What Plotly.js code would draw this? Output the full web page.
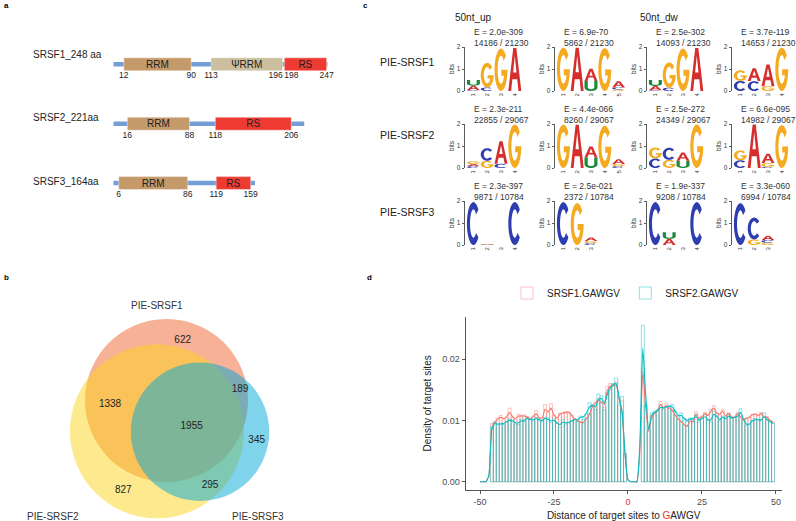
<!DOCTYPE html>
<html><head><meta charset="utf-8">
<script src="https://cdn.plot.ly/plotly-3.0.1.min.js"></script>
<style>html,body{margin:0;padding:0;background:#fff}</style>
</head><body><div id="chart" style="width:796px;height:521px"></div>
<script>
// ---------------- DATA ----------------
// Panel a: protein domains
const proteins = ['SRSF1_248 aa', 'SRSF2_221aa', 'SRSF3_164aa'];
const proteinLength = [248, 221, 164];
const domainProtein = [0, 0, 0, 1, 1, 2, 2];
const domainName = ['RRM', 'ΨRRM', 'RS', 'RRM', 'RS', 'RRM', 'RS'];
const domainStart = [12, 113, 198, 16, 118, 6, 119];
const domainEnd = [90, 196, 247, 88, 206, 86, 159];

// Panel b: Venn counts
const vennSets = ['PIE-SRSF1', 'PIE-SRSF2', 'PIE-SRSF3'];
const vennRegions = ['1 only', '1&2', '1&3', '1&2&3', '3 only', '2 only', '2&3'];
const vennCounts = [622, 1338, 189, 1955, 345, 827, 295];

// Panel c: motif logos
const logoRowNames = ['PIE-SRSF1', 'PIE-SRSF2', 'PIE-SRSF3'];
const logoGroupNames = ['50nt_up', '50nt_dw'];
const eValues = [
  ['2.0e-309', '6.9e-70', '2.5e-302', '3.7e-119'],
  ['2.3e-211', '4.4e-066', '2.5e-272', '6.6e-095'],
  ['2.3e-397', '2.5e-021', '1.9e-337', '3.3e-060']
];
const siteCounts = [
  ['14186 / 21230', '5862 / 21230', '14093 / 21230', '14653 / 21230'],
  ['22855 / 29067', '8260 / 29067', '24349 / 29067', '14982 / 29067'],
  ['9871 / 10784', '2372 / 10784', '9208 / 10784', '6994 / 10784']
];
// each column: stack bottom -> top, [letter, bits]
const logo_SRSF1_up_1 = [[['C',0.03],['A',0.21],['U',0.26]], [['C',0.16],['G',1.12]], [['G',1.93]], [['A',1.96]]];
const logo_SRSF1_up_2 = [[['G',1.97]], [['A',1.97]], [['U',0.46],['A',0.55]], [['G',1.95]], [['G',0.07],['C',0.09],['A',0.28]]];
const logo_SRSF1_dw_1 = [[['C',0.03],['A',0.2],['U',0.27]], [['C',0.15],['G',1.15]], [['G',1.93]], [['A',1.96]]];
const logo_SRSF1_dw_2 = [[['C',0.46],['G',0.48]], [['C',0.45],['A',0.58]], [['G',0.22],['A',0.99]], [['G',1.97]]];
const logo_SRSF2_up_1 = [[['C',0.08],['A',0.1],['G',0.13]], [['G',0.33],['C',0.57]], [['C',0.19],['A',1.03]], [['G',1.98]]];
const logo_SRSF2_up_2 = [[['G',1.97]], [['A',1.97]], [['U',0.48],['A',0.5]], [['G',1.93]], [['C',0.08],['G',0.1],['A',0.22]]];
const logo_SRSF2_dw_1 = [[['C',0.43],['G',0.5]], [['G',0.37],['C',0.55]], [['U',0.33],['A',0.37]], [['G',1.98]]];
const logo_SRSF2_dw_2 = [[['C',0.35],['G',0.45]], [['A',1.98]], [['C',0.05],['G',0.18],['A',0.42]], [['G',1.95]]];
const logo_SRSF3_up_1 = [[['C',1.95]], [['U',0.02],['A',0.03]], [], [['C',1.95]]];
const logo_SRSF3_up_2 = [[['C',1.95]], [['G',1.9]], [['C',0.08],['G',0.1],['A',0.16]]];
const logo_SRSF3_dw_1 = [[['C',1.95]], [['A',0.28],['U',0.3]], [], [['C',1.95]]];
const logo_SRSF3_dw_2 = [[['C',1.9]], [['G',0.25],['C',1.0]], [['G',0.1],['C',0.12],['A',0.2]]];
const logos = [
  [logo_SRSF1_up_1, logo_SRSF1_up_2, logo_SRSF1_dw_1, logo_SRSF1_dw_2],
  [logo_SRSF2_up_1, logo_SRSF2_up_2, logo_SRSF2_dw_1, logo_SRSF2_dw_2],
  [logo_SRSF3_up_1, logo_SRSF3_up_2, logo_SRSF3_dw_1, logo_SRSF3_dw_2]
];

// Panel d: histogram + density
const seriesNames = ['SRSF1.GAWGV', 'SRSF2.GAWGV'];
const binPos = [-46,-45,-44,-43,-42,-41,-40,-39,-38,-37,-36,-35,-34,-33,-32,-31,-30,-29,-28,-27,-26,-25,-24,-23,-22,-21,-20,-19,-18,-17,-16,-15,-14,-13,-12,-11,-10,-9,-8,-7,-6,-5,-4,-3,-2,-1,
  5,6,7,8,9,10,11,12,13,14,15,16,17,18,19,20,21,22,23,24,25,26,27,28,29,30,31,32,33,34,35,36,37,38,39,40,41,42,43,44,45,46,47,48,49];
const binSRSF1 = [0.0095,0.0098,0.0104,0.0108,0.0101,0.0104,0.0120,0.0105,0.0102,0.0110,0.0108,0.0109,0.0106,0.0101,0.0107,0.0116,0.0104,0.0100,0.0126,0.0113,0.0127,0.0108,0.0102,0.0112,0.0112,0.0114,0.0114,0.0109,0.0102,0.0100,0.0098,0.0096,0.0104,0.0110,0.0124,0.0130,0.0136,0.0130,0.0122,0.0155,0.0160,0.0158,0.0163,0.0130,0.0132,0.0045,
  0.0185,0.0105,0.0082,0.0108,0.0113,0.0116,0.0131,0.0118,0.0128,0.0120,0.0118,0.0108,0.0102,0.0098,0.0092,0.0090,0.0101,0.0097,0.0114,0.0102,0.0107,0.0113,0.0108,0.0118,0.0124,0.0112,0.0110,0.0118,0.0106,0.0112,0.0105,0.0104,0.0113,0.0106,0.0100,0.0104,0.0105,0.0110,0.0111,0.0108,0.0113,0.0105,0.0106,0.0100,0.0097];
const binSRSF2 = [0.0090,0.0097,0.0093,0.0095,0.0093,0.0097,0.0102,0.0101,0.0094,0.0093,0.0102,0.0098,0.0105,0.0103,0.0099,0.0105,0.0100,0.0098,0.0105,0.0104,0.0096,0.0103,0.0095,0.0089,0.0101,0.0094,0.0096,0.0100,0.0103,0.0098,0.0107,0.0102,0.0111,0.0129,0.0126,0.0118,0.0143,0.0140,0.0117,0.0146,0.0154,0.0160,0.0169,0.0125,0.0139,0.0046,
  0.0255,0.0125,0.0086,0.0112,0.0115,0.0118,0.0125,0.0120,0.0122,0.0124,0.0126,0.0115,0.0106,0.0112,0.0103,0.0098,0.0104,0.0102,0.0110,0.0097,0.0104,0.0110,0.0100,0.0098,0.0115,0.0108,0.0099,0.0107,0.0102,0.0111,0.0104,0.0105,0.0106,0.0119,0.0103,0.0092,0.0094,0.0100,0.0103,0.0101,0.0099,0.0112,0.0101,0.0098,0.0095];
const densPos = [-50,-49,-48,-47,-46,-45,-44,-43,-42,-41,-40,-39,-38,-37,-36,-35,-34,-33,-32,-31,-30,-29,-28,-27,-26,-25,-24,-23,-22,-21,-20,-19,-18,-17,-16,-15,-14,-13,-12,-11,-10,-9,-8,-7,-6,-5,-4,-3,-2,-1,
  0,1,2,3,4,5,6,7,8,9,10,11,12,13,14,15,16,17,18,19,20,21,22,23,24,25,26,27,28,29,30,31,32,33,34,35,36,37,38,39,40,41,42,43,44,45,46,47,48,49];
const densSRSF1 = [0,0,0,0.001,0.0088,0.0097,0.0102,0.0105,0.0103,0.0106,0.0113,0.0106,0.0103,0.0107,0.0107,0.0107,0.0105,0.0102,0.0106,0.0111,0.0104,0.0104,0.0118,0.0114,0.0120,0.0109,0.0104,0.0110,0.0112,0.0113,0.0113,0.0108,0.0102,0.0099,0.0097,0.0097,0.0103,0.0110,0.0122,0.0128,0.0133,0.0129,0.0126,0.0148,0.0156,0.0156,0.0158,0.0135,0.0112,0.0045,
  0.0003,0,0,0,0.005,0.0180,0.0120,0.0083,0.0105,0.0111,0.0116,0.0126,0.0120,0.0124,0.0120,0.0116,0.0108,0.0102,0.0098,0.0093,0.0091,0.0099,0.0098,0.0110,0.0103,0.0106,0.0111,0.0108,0.0115,0.0120,0.0112,0.0110,0.0115,0.0107,0.0111,0.0106,0.0105,0.0111,0.0106,0.0101,0.0103,0.0105,0.0109,0.0110,0.0108,0.0111,0.0106,0.0105,0.0100,0.0097];
const densSRSF2 = [0,0,0,0.001,0.0085,0.0095,0.0094,0.0094,0.0095,0.0098,0.0100,0.0099,0.0096,0.0096,0.0099,0.0100,0.0103,0.0102,0.0101,0.0103,0.0101,0.0100,0.0103,0.0102,0.0099,0.0100,0.0096,0.0093,0.0097,0.0096,0.0097,0.0099,0.0101,0.0101,0.0105,0.0106,0.0112,0.0122,0.0124,0.0122,0.0134,0.0136,0.0128,0.0142,0.0152,0.0158,0.0160,0.0137,0.0115,0.0045,
  0.0003,0,0,0,0.006,0.0218,0.0140,0.0085,0.0108,0.0113,0.0116,0.0121,0.0121,0.0122,0.0123,0.0122,0.0114,0.0108,0.0108,0.0103,0.0100,0.0102,0.0103,0.0106,0.0100,0.0103,0.0106,0.0101,0.0101,0.0110,0.0106,0.0101,0.0105,0.0103,0.0107,0.0104,0.0105,0.0107,0.0113,0.0102,0.0094,0.0094,0.0099,0.0101,0.0101,0.0101,0.0106,0.0101,0.0098,0.0095];

// ---------------- LAYOUT HELPERS ----------------
const W = 796, H = 521;
const FONT = 'Liberation Sans, Arial, sans-serif';
const PX = v => v / W, PY = v => 1 - v / H;
const traces = [], shapes = [], annotations = [];
const layout = {
  width: W, height: H, autosize: false,
  margin: {l: 0, r: 0, t: 0, b: 0, pad: 0},
  paper_bgcolor: '#ffffff', plot_bgcolor: 'rgba(0,0,0,0)',
  font: {family: FONT, color: '#222'},
  barmode: 'overlay', showlegend: true
};
function label(x, y, text, opts) {
  annotations.push(Object.assign({xref: 'paper', yref: 'paper', x: PX(x), y: PY(y), text: text,
    showarrow: false, xanchor: 'left', yanchor: 'middle', font: {size: 10, color: '#222', family: FONT}}, opts || {}));
}
// panel letters
label(2, 6, '<b>a</b>', {font: {size: 8, color: '#000'}});
label(361, 6, '<b>c</b>', {font: {size: 8, color: '#000'}});
label(2, 277, '<b>b</b>', {font: {size: 8, color: '#000'}});
label(365, 277, '<b>d</b>', {font: {size: 8, color: '#000'}});

// ---------------- PANEL A ----------------
const aScale = 214 / 248, aOrigin = 113.5, rowTop = 64.3, rowPitch = 59.4;
layout.xaxis = {domain: [0, PX(360)], range: [(0 - aOrigin) / aScale, (360 - aOrigin) / aScale], visible: false, fixedrange: true};
layout.yaxis = {domain: [PY(250), 1], range: [(250 - rowTop) / rowPitch, -rowTop / rowPitch], visible: false};
const rows = proteins.map((p, i) => i);
traces.push({type: 'bar', orientation: 'h', xaxis: 'x', yaxis: 'y', y: rows, base: rows.map(() => 0),
  x: proteinLength, width: 4.5 / rowPitch, marker: {color: '#739ED6', line: {width: 0}}, showlegend: false, hoverinfo: 'skip'});
const domColors = {'RRM': '#C49A6A', 'ΨRRM': '#CBBF9F', 'RS': '#EE3B32'};
traces.push({type: 'bar', orientation: 'h', xaxis: 'x', yaxis: 'y', y: domainProtein, base: domainStart,
  x: domainEnd.map((e, i) => e - domainStart[i]), width: 13 / rowPitch,
  marker: {color: domainName.map(n => domColors[n]), line: {width: 0.6, color: 'rgba(255,255,255,0.7)'}},
  text: domainName, textposition: 'inside', insidetextanchor: 'middle', constraintext: 'none', textangle: 0,
  textfont: {size: 10, color: '#222', family: FONT}, showlegend: false, hoverinfo: 'skip'});
// boundary numbers
const nx = [], ny = [], nt = [], np = [];
domainStart.forEach((s, i) => {
  const r = domainProtein[i];
  let posS = 'middle center', posE = 'middle center';
  const prev = domainStart.findIndex((s2, j) => domainProtein[j] === r && domainEnd[j] < s && s - domainEnd[j] < 5);
  if (prev >= 0) posS = 'middle right';
  const next = domainStart.findIndex((s2, j) => domainProtein[j] === r && s2 > domainEnd[i] && s2 - domainEnd[i] < 5);
  if (next >= 0) posE = 'middle left';
  nx.push(s, domainEnd[i]); ny.push(r + 0.2, r + 0.2); nt.push(String(s), String(domainEnd[i])); np.push(posS, posE);
});
traces.push({type: 'scatter', mode: 'text', xaxis: 'x', yaxis: 'y', x: nx, y: ny, text: nt, textposition: np,
  textfont: {size: 8.5, color: '#222', family: FONT}, showlegend: false, hoverinfo: 'skip', cliponaxis: false});
const nameOffsets = [-0.17, -0.1, -0.035];
proteins.forEach((p, i) => {
  annotations.push({xref: 'paper', yref: 'y', x: PX(30.5), y: i + nameOffsets[i], text: p, showarrow: false,
    xanchor: 'left', yanchor: 'middle', font: {size: 10, color: '#222', family: FONT}});
});

// ---------------- PANEL B (Venn) ----------------
layout.xaxis2 = {domain: [0, PX(360)], range: [0, 360], visible: false, anchor: 'y2'};
layout.yaxis2 = {domain: [0, PY(255)], range: [521, 255], visible: false, anchor: 'x2'};
const vennCircles = [
  {cx: 166.5, cy: 400.5, r: 81.5, color: 'rgba(237,100,45,0.5)'},
  {cx: 157, cy: 431.3, r: 87, color: 'rgba(253,213,30,0.5)'},
  {cx: 200, cy: 431.7, r: 69.2, color: 'rgba(0,167,213,0.5)'}
];
vennCircles.forEach(c => shapes.push({type: 'circle', xref: 'x2', yref: 'y2', x0: c.cx - c.r, x1: c.cx + c.r,
  y0: c.cy - c.r, y1: c.cy + c.r, fillcolor: c.color, line: {width: 0}, layer: 'below'}));
const vennLabelXY = [[182.7, 340], [110, 404], [240, 389.3], [191.7, 426.7], [256.7, 440], [123.3, 490.7], [210, 485.7]];
traces.push({type: 'scatter', mode: 'text', xaxis: 'x2', yaxis: 'y2', x: vennLabelXY.map(p => p[0]), y: vennLabelXY.map(p => p[1]),
  text: vennCounts.map(String), textposition: 'middle center', textfont: {size: 10, color: '#222', family: FONT},
  showlegend: false, hoverinfo: 'skip'});
const vennSetXY = [[157, 305], [52.7, 516.5], [258.3, 516.5]];
vennSets.forEach((s, i) => label(vennSetXY[i][0], vennSetXY[i][1], s, {xanchor: 'center', font: {size: 10, color: '#333', family: FONT}}));

// ---------------- PANEL C (logos) ----------------
const letterColor = {A: '#D42E2E', C: '#2E3DAF', G: '#F4AA21', U: '#1B8A3C'};
function arc(cx, cy, rx, ry, a0, a1, n) {
  const p = [];
  for (let i = 0; i <= n; i++) { const a = (a0 + (a1 - a0) * i / n) * Math.PI / 180; p.push([cx + rx * Math.cos(a), cy + ry * Math.sin(a)]); }
  return p;
}
const GLYPH = {
  A: [[[0,0],[0.22,0],[0.31,0.27],[0.69,0.27],[0.78,0],[1,0],[0.62,1],[0.38,1]], [[0.37,0.43],[0.5,0.82],[0.63,0.43]]],
  C: [arc(0.5,0.5,0.5,0.5,40,320,28).concat(arc(0.5,0.5,0.26,0.33,320,40,28))],
  G: [arc(0.5,0.5,0.5,0.5,40,355,28).concat([[1,0.5],[0.53,0.5],[0.53,0.36]], arc(0.5,0.5,0.26,0.33,335,40,26))],
  U: [[[0,1]].concat(arc(0.5,0.36,0.5,0.36,180,360,16), [[1,1],[0.75,1]], arc(0.5,0.36,0.25,0.18,360,180,16), [[0.25,1]])]
};
const logoAxisX = [465, 555, 647, 732];
const logoBase = [91, 168, 245];
const bitPx = 22, colW = 13.8, padPx = 1.5;
let ax = 4;
logos.forEach((row, r) => {
  label(378, [62, 135, 212][r], logoRowNames[r], {font: {size: 10.5, color: '#222', family: FONT}});
  row.forEach((logo, c) => {
    const n = logo.length, xa = 'xaxis' + ax, ya = 'yaxis' + ax, xr = 'x' + ax, yr = 'y' + ax;
    const x0 = logoAxisX[c], y0 = logoBase[r];
    layout[xa] = {domain: [PX(x0), PX(x0 + padPx + n * colW)], range: [0.5 - padPx / colW, n + 0.5], anchor: yr,
      showline: false, showgrid: false, zeroline: false, ticks: '', tickvals: logo.map((col, i) => i + 1),
      ticktext: logo.map((col, i) => String(i + 1)), tickangle: -90, tickfont: {size: 6, color: '#333', family: FONT}, ticklabelstandoff: 0};
    layout[ya] = {domain: [PY(y0), PY(y0 - 2 * bitPx)], range: [0, 2], anchor: xr, showline: true, linecolor: '#333', linewidth: 0.8,
      ticks: 'outside', ticklen: 2.5, tickwidth: 0.8, tickcolor: '#333', tickvals: [0, 1, 2], ticktext: ['0', '1', '2'],
      tickfont: {size: 6.5, color: '#333', family: FONT}, showgrid: false, zeroline: false,
      title: {text: 'bits', font: {size: 6.5, color: '#333', family: FONT}, standoff: 1}};
    logo.forEach((stack, ci) => {
      let base = 0;
      stack.forEach(([L, h]) => {
        const xl = ci + 1 - 0.5 + 0.03, xw = 0.94;
        const d = GLYPH[L].map(sub => 'M' + sub.map(p => (xl + p[0] * xw).toFixed(4) + ',' + (base + p[1] * h).toFixed(4)).join('L') + 'Z').join('');
        shapes.push({type: 'path', xref: xr, yref: yr, path: d, fillcolor: letterColor[L], line: {width: 0}, layer: 'above'});
        base += h;
      });
    });
    annotations.push({xref: 'paper', yref: 'paper', x: PX(x0 + 6.5), y: PY(y0 - 53.5), text: 'E = ' + eValues[r][c] + '<br>' + siteCounts[r][c],
      showarrow: false, xanchor: 'left', yanchor: 'middle', align: 'left', font: {size: 8.5, color: '#333', family: FONT}});
    ax++;
  });
});
label(453, 17, logoGroupNames[0], {font: {size: 10, color: '#222', family: FONT}});
label(638, 17, logoGroupNames[1], {font: {size: 10, color: '#222', family: FONT}});

// ---------------- PANEL D ----------------
layout.xaxis3 = {domain: [PX(465.7), PX(781.7)], range: [-54.83, 51.93], anchor: 'y3', showline: true, linecolor: '#555', linewidth: 1,
  ticks: 'outside', ticklen: 3, tickcolor: '#555', tickvals: [-50, -25, 0, 25, 50],
  ticktext: ['-50', '-25', '<span style="color:#E8312F">0</span>', '25', '50'],
  tickfont: {size: 9, color: '#4d4d4d', family: FONT}, showgrid: false, zeroline: false,
  title: {text: 'Distance of target sites to <span style="color:#E8312F">G</span>AWGV', font: {size: 10, color: '#222', family: FONT}, standoff: 6}};
layout.yaxis3 = {domain: [PY(490), PY(316.7)], range: [-0.00135, 0.0269], anchor: 'x3', showline: true, linecolor: '#555', linewidth: 1,
  ticks: 'outside', ticklen: 3, tickcolor: '#555', tickvals: [0, 0.01, 0.02], ticktext: ['0.00', '0.01', '0.02'],
  tickfont: {size: 9, color: '#4d4d4d', family: FONT}, showgrid: false, zeroline: false,
  title: {text: 'Density of target sites', font: {size: 10, color: '#222', family: FONT}, standoff: 8}};
const sColors = ['248,118,109', '0,191,196'];
[binSRSF1, binSRSF2].forEach((vals, i) => {
  traces.push({type: 'bar', xaxis: 'x3', yaxis: 'y3', x: binPos, y: vals, width: 1, name: seriesNames[i],
    marker: {color: 'rgba(0,0,0,0)', line: {color: 'rgba(' + sColors[i] + ',0.55)', width: 0.8}},
    legendgroup: seriesNames[i], showlegend: true, hoverinfo: 'skip'});
});
[densSRSF1, densSRSF2].forEach((vals, i) => {
  traces.push({type: 'scatter', mode: 'lines', xaxis: 'x3', yaxis: 'y3', x: densPos, y: vals,
    line: {color: 'rgb(' + sColors[i] + ')', width: 1.1, shape: 'spline', smoothing: 0.5},
    legendgroup: seriesNames[i], showlegend: false, hoverinfo: 'skip'});
});
layout.legend = {orientation: 'h', x: PX(507), y: PY(293), xanchor: 'left', yanchor: 'middle',
  font: {size: 10, color: '#222', family: FONT}, bgcolor: 'rgba(0,0,0,0)', traceorder: 'normal', itemwidth: 30};

layout.shapes = shapes;
layout.annotations = annotations;
Plotly.newPlot('chart', traces, layout, {staticPlot: true, displayModeBar: false});
</script></body></html>
